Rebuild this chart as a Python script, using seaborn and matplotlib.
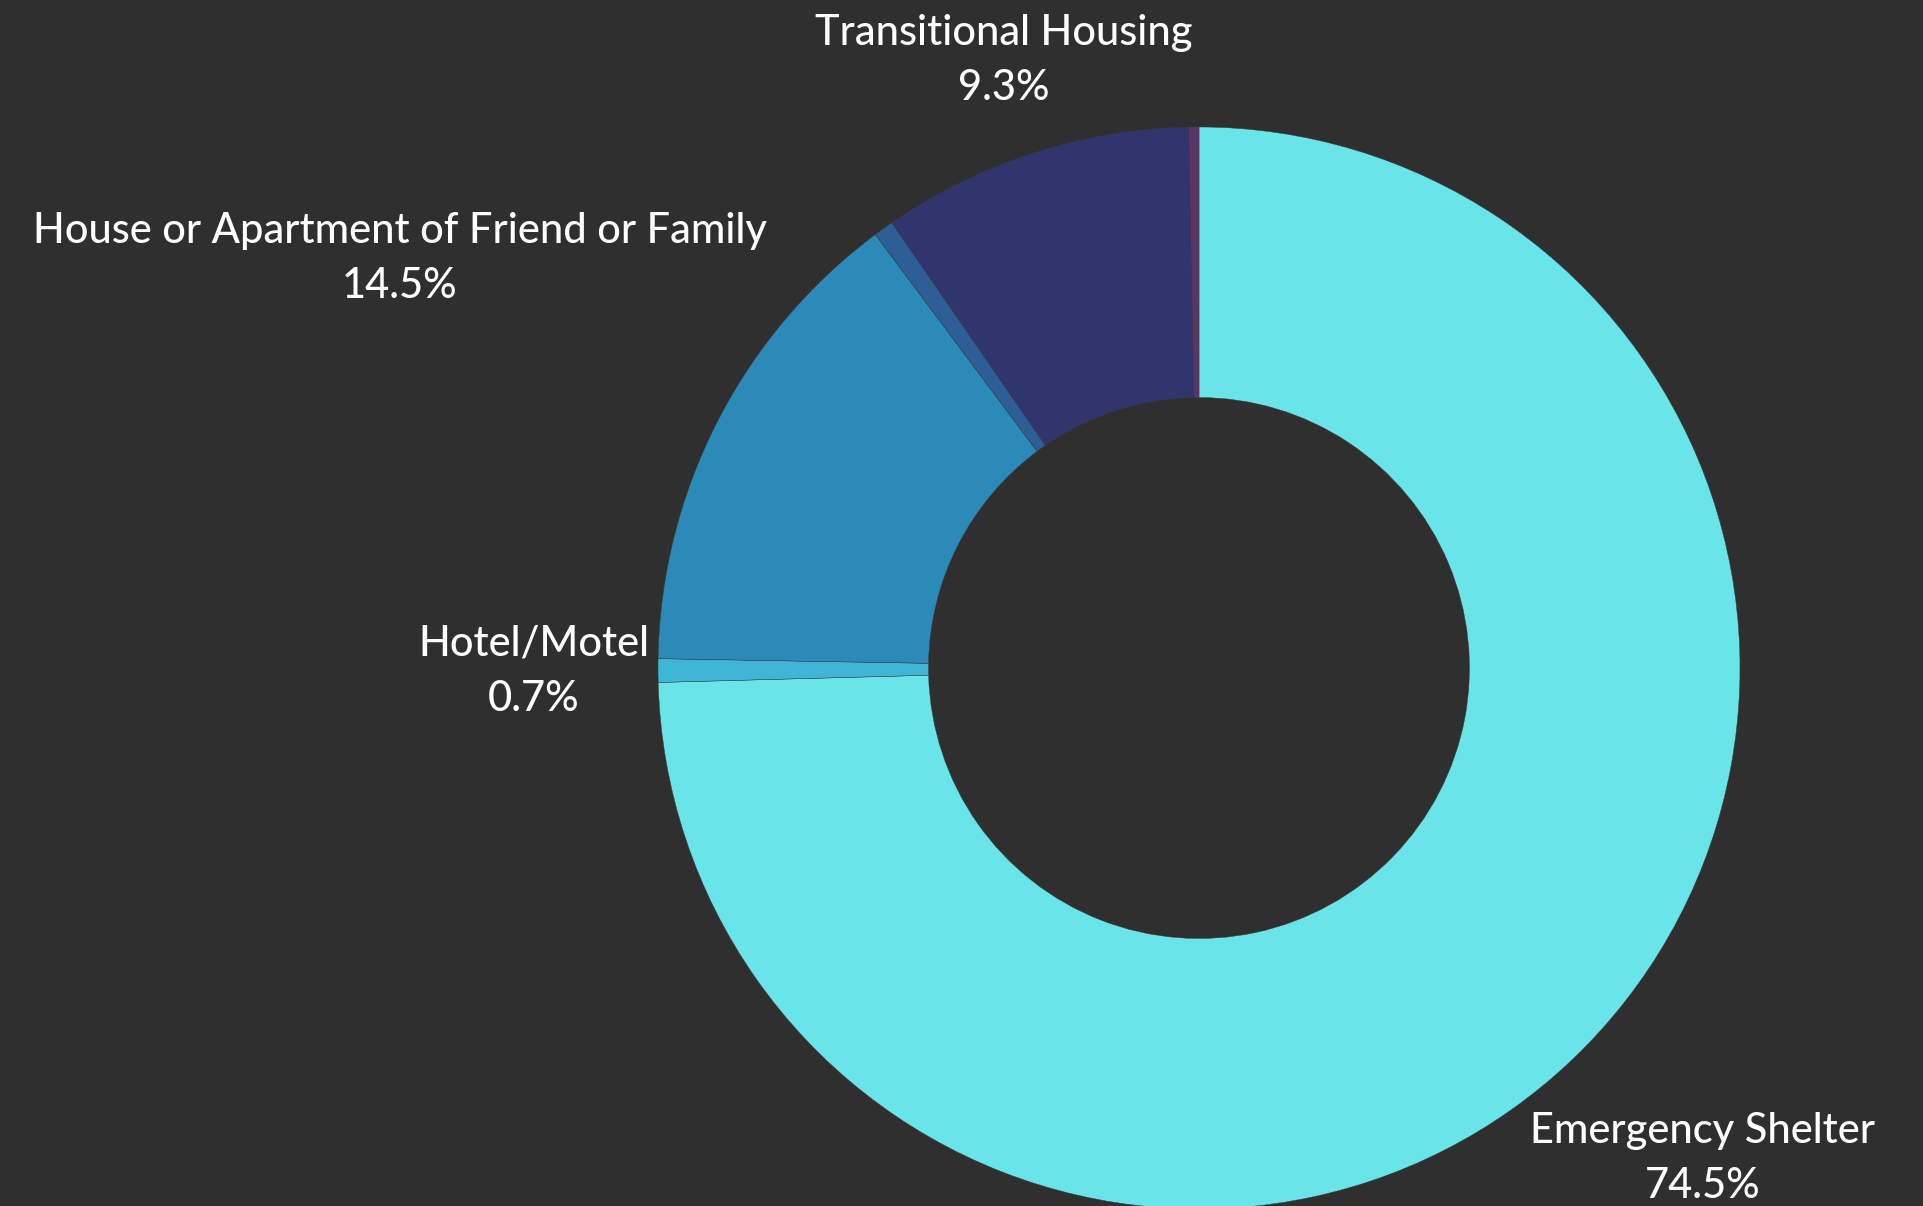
import numpy as np
import seaborn as sns
import matplotlib.pyplot as plt

# Slice data (clockwise from 12 o'clock), percent of total
categories = ['Emergency Shelter', 'Hotel/Motel', 'House or Apartment of Friend or Family',
              'Other', 'Transitional Housing', 'Unknown']
shares = [74.5, 0.7, 14.5, 0.6, 9.3, 0.3]
show_label = [True, True, True, False, True, False]
slice_colors = ['#69e4e8', '#3fb6d6', '#2b8ab8', '#2d5f96', '#31356e', '#5e3466']

# how far out each label sits along its slice's mid angle (in radii)
label_dist = [1.30, 1.23, 1.66, 1.2, 1.18, 1.2]

bg = '#2f2f2f'
sns.set_theme(style='dark', rc={'figure.facecolor': bg, 'axes.facecolor': bg})
plt.rcParams['font.family'] = ['Lato', 'DejaVu Sans']

fig = plt.figure(figsize=(19.24, 12.06), dpi=100)
ax = fig.add_axes([0, 0, 1, 1])
ax.set_facecolor(bg)

wedges, _ = ax.pie(shares, colors=sns.color_palette(slice_colors), startangle=90,
                   counterclock=False, radius=1,
                   wedgeprops=dict(width=0.5, edgecolor='#3a3a3a', linewidth=0.3))

for w, name, val, show, d in zip(wedges, categories, shares, show_label, label_dist):
    if not show:
        continue
    mid = np.deg2rad((w.theta1 + w.theta2) / 2)
    ax.text(d * np.cos(mid), d * np.sin(mid), f'{name}\n{val:.1f}%',
            ha='center', va='center', color='white', fontsize=30,
            fontweight='medium', linespacing=1.55)

# place the pie: centre at (1199, 668) px, radius 541 px
W, H, cx, cy, R = 1924, 1206, 1199, 668, 541
ax.set_xlim(-cx / R, (W - cx) / R)
ax.set_ylim(-(H - cy) / R, cy / R)
ax.set_aspect('auto')
ax.axis('off')

fig.savefig('out.png', dpi=100, facecolor=bg)
